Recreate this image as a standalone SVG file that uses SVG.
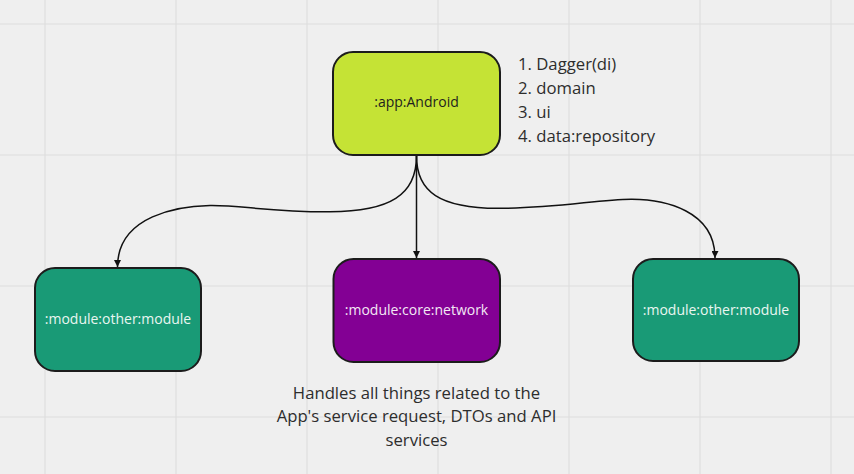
<svg xmlns="http://www.w3.org/2000/svg" width="854" height="474" viewBox="0 0 854 474">
<style>
.grid line{stroke:#dedede;stroke-width:1.2}
.node rect{stroke:#1c1c1c;stroke-width:2}
.lbl{font-family:"Open Sans","Noto Sans",sans-serif;font-size:14px;text-anchor:middle}
.note{font-family:"Open Sans","Noto Sans",sans-serif;font-size:16.7px;fill:#2d2d2d}
.conn path{fill:none;stroke:#111;stroke-width:1.5}
</style>
<defs>
<marker id="arr" viewBox="0 0 10 10" refX="10" refY="5" markerWidth="7" markerHeight="7" markerUnits="userSpaceOnUse" orient="auto">
<path d="M0,0 L10,5 L0,10 z" fill="#111"/>
</marker>
</defs>
<rect width="854" height="474" fill="#efefef"/>
<g class="grid">
<line x1="45" y1="0" x2="45" y2="474"/>
<line x1="176" y1="0" x2="176" y2="474"/>
<line x1="307" y1="0" x2="307" y2="474"/>
<line x1="438" y1="0" x2="438" y2="474"/>
<line x1="569" y1="0" x2="569" y2="474"/>
<line x1="700" y1="0" x2="700" y2="474"/>
<line x1="831" y1="0" x2="831" y2="474"/>
<line x1="0" y1="24" x2="854" y2="24"/>
<line x1="0" y1="155" x2="854" y2="155"/>
<line x1="0" y1="286" x2="854" y2="286"/>
<line x1="0" y1="417" x2="854" y2="417"/>
</g>
<g class="conn">
<path d="M416.5,156 C416.5,195 390,211.5 330,211.8 S240,205 210,205.5 S117.5,215 117.5,267" marker-end="url(#arr)"/>
<path d="M416.5,156 V258" marker-end="url(#arr)"/>
<path d="M416.5,156 C416.5,192 440,208 498,208.3 S600,199 632,199.3 S715,210 715,258" marker-end="url(#arr)"/>
</g>
<g id="app" class="node">
<rect x="333" y="52" width="167" height="103" rx="20" fill="#c5e335"/>
<text class="lbl" x="416.5" y="107" fill="#1e1e1e">:app:Android</text>
</g>
<g id="other-left" class="node">
<rect x="35" y="268" width="166" height="103" rx="20" fill="#199a76"/>
<text class="lbl" x="118" y="323.5" fill="#eaf6f1">:module:other:module</text>
</g>
<g id="core-network" class="node">
<rect x="333.5" y="259" width="166.5" height="103" rx="20" fill="#830094"/>
<text class="lbl" x="416.5" y="314.5" fill="#f3e8f5">:module:core:network</text>
</g>
<g id="other-right" class="node">
<rect x="633" y="259" width="166" height="102" rx="20" fill="#199a76"/>
<text class="lbl" x="716" y="314.5" fill="#eaf6f1">:module:other:module</text>
</g>
<g id="list">
<text class="note" x="518" y="69.5">1. Dagger(di)</text>
<text class="note" x="518" y="93.5">2. domain</text>
<text class="note" x="518" y="117.5">3. ui</text>
<text class="note" x="518" y="141.5">4. data:repository</text>
</g>
<g id="description">
<text class="note" text-anchor="middle" x="416.5" y="398.5">Handles all things related to the</text>
<text class="note" text-anchor="middle" x="416.5" y="422">App's service request, DTOs and API</text>
<text class="note" text-anchor="middle" x="416.5" y="445.5">services</text>
</g>
</svg>
